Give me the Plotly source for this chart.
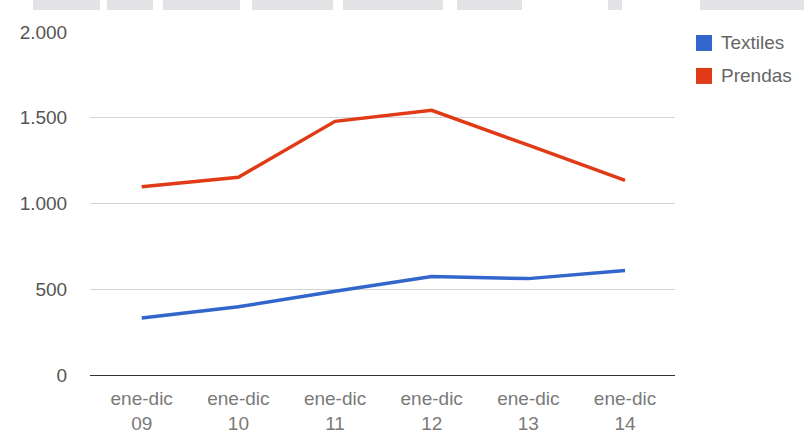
import plotly.graph_objects as go

# Periods (January-December of each year)
periods = ["ene-dic<br>09", "ene-dic<br>10", "ene-dic<br>11",
           "ene-dic<br>12", "ene-dic<br>13", "ene-dic<br>14"]

# Export values per sector
textiles = [333, 398, 488, 574, 562, 609]
prendas = [1098, 1153, 1479, 1543, 1340, 1135]

# Y-axis ticks with Spanish thousands separator
y_ticks = [0, 500, 1000, 1500, 2000]
y_tick_labels = ["0", "500", "1.000", "1.500", "2.000"]

BLUE = "#3366cc"
RED = "#e03a16"
FONT = "Liberation Sans, Arial, sans-serif"

W, H = 804, 435
ML, MR, MT, MB = 90, 129, 32, 59.5
PW, PH = W - ML - MR, H - MT - MB


def px_x(x):
    """Pixel column -> paper x."""
    return (x - ML) / PW


def px_y(y):
    """Pixel row (from top) -> paper y."""
    return (H - MB - y) / PH


fig = go.Figure()

series = [("Textiles", textiles, BLUE), ("Prendas", prendas, RED)]
for name, values, color in series:
    fig.add_trace(go.Scatter(
        x=periods, y=values, mode="lines", name=name,
        line=dict(color=color, width=3.5),
        showlegend=False, hoverinfo="x+y+name",
    ))

# Legend: square keys with labels to the right of the plot
for i, (name, values, color) in enumerate(series):
    cy = 43 + i * 33
    fig.add_shape(type="rect", xref="paper", yref="paper",
                  x0=px_x(696), x1=px_x(712), y0=px_y(cy + 8), y1=px_y(cy - 8),
                  fillcolor=color, line_width=0)
    fig.add_annotation(x=px_x(719), y=px_y(cy), xref="paper", yref="paper",
                       text=name, showarrow=False, xanchor="left", yanchor="middle",
                       font=dict(family=FONT, size=19, color="#666666"))

# Faint banner strip along the top edge
banner = [(33, 100), (107, 153), (163, 240), (252, 333), (343, 443),
          (457, 522), (608, 622), (700, 804)]
for x0, x1 in banner:
    fig.add_shape(type="rect", xref="paper", yref="paper",
                  x0=px_x(x0), x1=px_x(x1), y0=px_y(10), y1=px_y(0),
                  fillcolor="#e3e3e6", line_width=0, layer="below")

fig.update_layout(
    width=W, height=H,
    margin=dict(l=ML, r=MR, t=MT, b=MB),
    paper_bgcolor="white", plot_bgcolor="white",
    font=dict(family=FONT, size=19, color="#555555"),
    showlegend=False,
    xaxis=dict(
        type="category", range=[-0.535, 5.517], automargin=False,
        showgrid=False, showline=False, zeroline=False,
        ticks="outside", ticklen=6, tickcolor="rgba(0,0,0,0)",
        tickfont=dict(size=19, color="#7a7a7a"),
        fixedrange=True,
    ),
    yaxis=dict(
        range=[0, 2000], tickvals=y_ticks, ticktext=y_tick_labels,
        automargin=False,
        showgrid=True, gridcolor="#d4d4d4", gridwidth=1,
        zeroline=True, zerolinecolor="#333333", zerolinewidth=1.2,
        showline=False,
        ticks="outside", ticklen=18, tickcolor="rgba(0,0,0,0)",
        tickfont=dict(size=19, color="#555555"),
        fixedrange=True,
    ),
)

fig.write_html("out.html")
